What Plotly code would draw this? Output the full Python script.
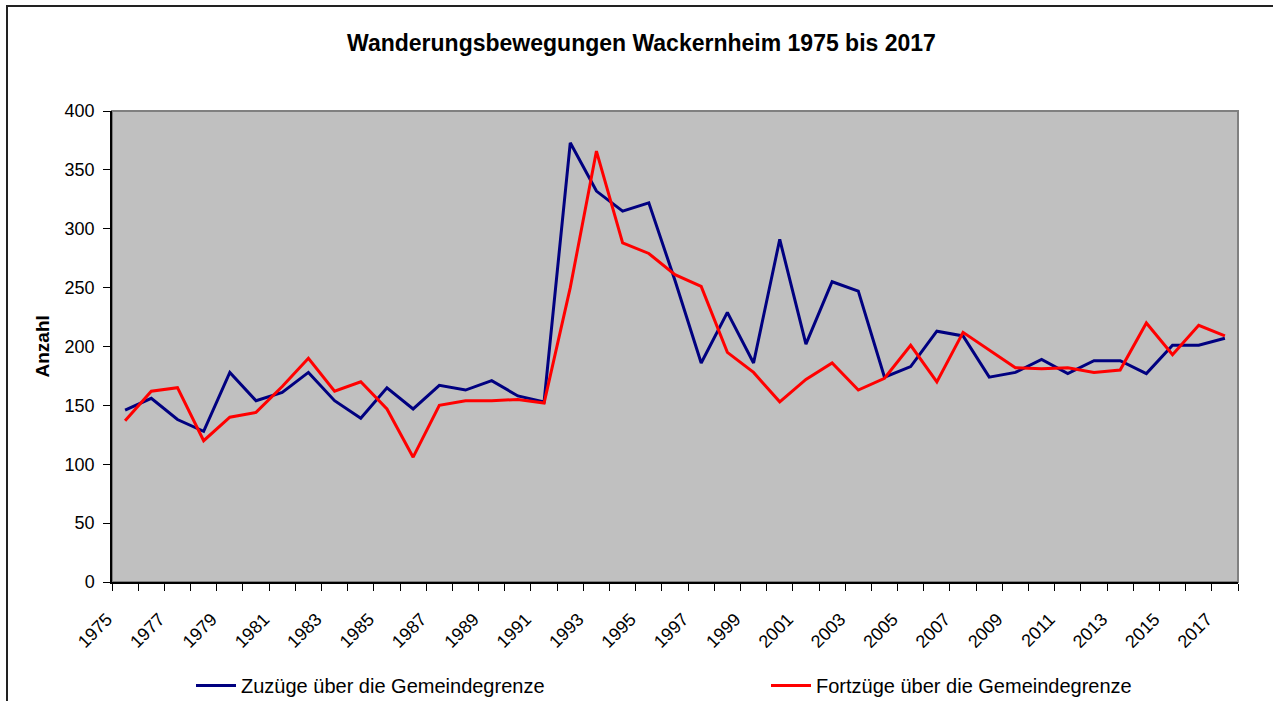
import plotly.graph_objects as go

years = list(range(1975, 2018))
zuzuege = [146, 156, 138, 128, 178, 154, 161, 178, 154, 139,
           165, 147, 167, 163, 171, 158, 153, 373, 332, 315,
           322, 256, 186, 229, 186, 291, 202, 255, 247, 174,
           183, 213, 209, 174, 178, 189, 177, 188, 188, 177,
           201, 201, 207]
fortzuege = [137, 162, 165, 120, 140, 144, 166, 190, 162, 170,
             147, 106, 150, 154, 154, 155, 152, 250, 366, 288,
             279, 261, 251, 195, 178, 153, 172, 186, 163, 173,
             201, 170, 212, 197, 182, 181, 182, 178, 180, 220,
             193, 218, 209]
label_years = years[::2]
y_ticks = [0, 50, 100, 150, 200, 250, 300, 350, 400]

FONT = "Liberation Sans, Arial, sans-serif"
W, H = 1273, 701
L, R, T, B = 112, 35, 111, 119
pw, ph = W - L - R, H - T - B

def px_x(p):
    return (p - L) / pw

def px_y(p):
    return (H - B - p) / ph

fig = go.Figure()
fig.add_trace(go.Scatter(x=years, y=zuzuege, mode="lines",
                         name="Zuzüge über die Gemeindegrenze",
                         line=dict(color="#000080", width=3), legend="legend"))
fig.add_trace(go.Scatter(x=years, y=fortzuege, mode="lines",
                         name="Fortzüge über die Gemeindegrenze",
                         line=dict(color="#FF0000", width=3), legend="legend2"))

legend_common = dict(orientation="h", xanchor="left", yanchor="top",
                     font=dict(family=FONT, size=20, color="black"),
                     bgcolor="rgba(0,0,0,0)", itemwidth=40)

fig.update_layout(
    width=W, height=H,
    margin=dict(l=L, r=R, t=T, b=B, autoexpand=False),
    paper_bgcolor="white",
    plot_bgcolor="#C0C0C0",
    font=dict(family=FONT, color="black", size=18),
    title=dict(text="<b>Wanderungsbewegungen Wackernheim 1975 bis 2017</b>",
               x=641.5 / W, xref="container", xanchor="center",
               y=1 - 43 / H, yref="container", yanchor="middle",
               font=dict(family=FONT, size=23, color="black")),
    showlegend=True,
    legend=dict(x=px_x(191), y=px_y(666), **legend_common),
    legend2=dict(x=px_x(766), y=px_y(666), **legend_common),
    xaxis=dict(range=[1974.5, 2017.5], tickmode="array",
               tickvals=label_years,
               ticktext=[str(y) for y in label_years],
               ticklabelshift=-18,
               tickangle=-45, ticks="outside", ticklen=18, tickcolor="rgba(0,0,0,0)",
               showgrid=False, zeroline=False, showline=True, linecolor="black", linewidth=1.5,
               tickfont=dict(family=FONT, size=18, color="black"),
               minor=dict(tickmode="linear", tick0=1974.5, dtick=1, ticks="outside",
                          ticklen=7, tickcolor="black", showgrid=False)),
    yaxis=dict(range=[0, 400], tickmode="array", tickvals=y_ticks,
               ticks="outside", ticklen=7, tickcolor="black", ticklabelstandoff=5,
               showgrid=False, zeroline=False, showline=True, linecolor="black", linewidth=1.5,
               tickfont=dict(family=FONT, size=18, color="black")),
)

# plot area border (top/right grey)
fig.add_shape(type="rect", xref="paper", yref="paper", x0=0, y0=0, x1=1, y1=1,
              line=dict(color="#808080", width=2), fillcolor="rgba(0,0,0,0)", layer="below")
# outer chart border
fig.add_shape(type="rect", xref="paper", yref="paper",
              x0=px_x(7), y0=px_y(715), x1=px_x(1290), y1=px_y(6),
              line=dict(color="#222222", width=2), fillcolor="rgba(0,0,0,0)", layer="below")

fig.add_annotation(text="<b>Anzahl</b>", xref="paper", yref="paper",
                   x=px_x(42), y=0.5, xanchor="center", yanchor="middle",
                   textangle=-90, showarrow=False,
                   font=dict(family=FONT, size=19, color="black"))

fig.write_html("out.html", config={"displayModeBar": False},
               post_script="document.body.style.margin='0px';")
